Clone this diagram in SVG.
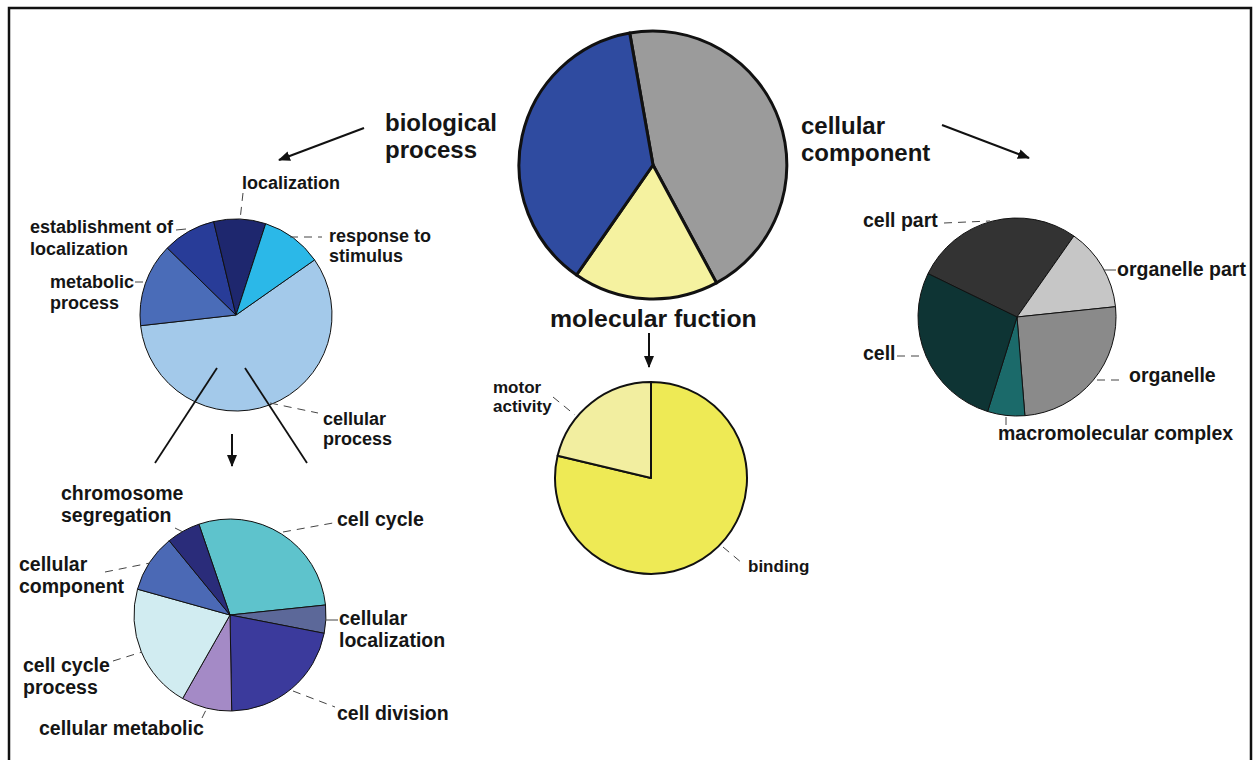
<svg xmlns="http://www.w3.org/2000/svg" width="1258" height="760" viewBox="0 0 1258 760">
<style>
text{font-family:"Liberation Sans",Arial,sans-serif;font-weight:bold;fill:#151515}
.h{font-size:24px}
.hm{font-size:24.8px}
.l{font-size:17px}
.lb{font-size:18px}
.lc{font-size:19.5px}
.s{stroke:#111;stroke-linejoin:round}
.big{stroke-width:3}
.mid{stroke-width:2}
.thin{stroke-width:1}
.lead{stroke:#444;stroke-width:1;fill:none}
.dash{stroke-dasharray:8 6}
.arr{stroke:#111;stroke-width:2;fill:none;marker-end:url(#ah)}
.cone{stroke:#111;stroke-width:1.8;fill:none}
</style>
<defs>
<marker id="ah" markerWidth="12" markerHeight="10" refX="11" refY="5" orient="auto" markerUnits="userSpaceOnUse">
<path d="M0,0 L12,5 L0,10 Z" fill="#111"/>
</marker>
</defs>
<rect width="1258" height="760" fill="#fff"/>
<path d="M9,760 V8 H1251 V760" fill="none" stroke="#111" stroke-width="2.5"/>

<g id="main-pie">
<path class="s big" fill="#9b9b9b" d="M653,165 L629.7,33 A134,134 0 0 1 716.5,282.9 Z"/>
<path class="s big" fill="#f5f2a0" d="M653,165 L716.5,282.9 A134,134 0 0 1 576.5,275 Z"/>
<path class="s big" fill="#2f4ba0" d="M653,165 L576.5,275 A134,134 0 0 1 629.7,33 Z"/>
</g>

<g id="headings">
<text class="h" x="385" y="131">biological</text>
<text class="h" x="385" y="158">process</text>
<text class="h" x="801" y="134">cellular</text>
<text class="h" x="801" y="161">component</text>
<text class="hm" x="550" y="327">molecular fuction</text>
</g>

<g id="biological-pie">
<path class="s thin" fill="#a3c9ea" d="M236,315 L314.6,259.9 A96,96 0 1 1 140.6,325.7 Z"/>
<path class="s thin" fill="#4a6cb8" d="M236,315 L140.6,325.7 A96,96 0 0 1 167.3,248 Z"/>
<path class="s thin" fill="#283c98" d="M236,315 L167.3,248 A96,96 0 0 1 213.7,221.6 Z"/>
<path class="s thin" fill="#1e276e" d="M236,315 L213.7,221.6 A96,96 0 0 1 265.7,223.7 Z"/>
<path class="s thin" fill="#2bb8e8" d="M236,315 L265.7,223.7 A96,96 0 0 1 314.6,259.9 Z"/>
<text class="lb" x="242" y="189">localization</text>
<text class="lb" x="30" y="233">establishment of</text>
<text class="lb" x="30" y="255">localization</text>
<text class="lb" x="50" y="288">metabolic</text>
<text class="lb" x="50" y="309">process</text>
<text class="lb" x="329" y="242">response to</text>
<text class="lb" x="329" y="262">stimulus</text>
<text class="lb" x="323" y="425">cellular</text>
<text class="lb" x="323" y="445">process</text>
</g>

<g id="cellular-process-pie">
<path class="s thin" fill="#5ec3cc" d="M230,615 L198.9,524.2 A96,96 0 0 1 325.5,605 Z"/>
<path class="s thin" fill="#5c6899" d="M230,615 L325.5,605 A96,96 0 0 1 324.2,633.3 Z"/>
<path class="s thin" fill="#3b3a9c" d="M230,615 L324.2,633.3 A96,96 0 0 1 231.7,711 Z"/>
<path class="s thin" fill="#a48ac6" d="M230,615 L231.7,711 A96,96 0 0 1 182.6,698.5 Z"/>
<path class="s thin" fill="#d1ecf1" d="M230,615 L182.6,698.5 A96,96 0 0 1 137.5,589.2 Z"/>
<path class="s thin" fill="#4b69b5" d="M230,615 L137.5,589.2 A96,96 0 0 1 169.2,540.7 Z"/>
<path class="s thin" fill="#2a2c7a" d="M230,615 L169.2,540.7 A96,96 0 0 1 198.9,524.2 Z"/>
<text class="lc" x="61" y="500">chromosome</text>
<text class="lc" x="61" y="522">segregation</text>
<text class="lc" x="337" y="526">cell cycle</text>
<text class="lc" x="19" y="571">cellular</text>
<text class="lc" x="19" y="593">component</text>
<text class="lc" x="339" y="625">cellular</text>
<text class="lc" x="339" y="647">localization</text>
<text class="lc" x="23" y="672">cell cycle</text>
<text class="lc" x="23" y="694">process</text>
<text class="lc" x="39" y="735">cellular metabolic</text>
<text class="lc" x="337" y="720">cell division</text>
</g>

<g id="molecular-pie">
<path class="s mid" fill="#eeea55" d="M651,478 L651,382 A96,96 0 1 1 557.6,455.8 Z"/>
<path class="s mid" fill="#f2eea0" d="M651,478 L557.6,455.8 A96,96 0 0 1 651,382 Z"/>
<text class="l" x="493" y="393">motor</text>
<text class="l" x="493" y="412">activity</text>
<text class="l" x="748" y="572">binding</text>
</g>

<g id="component-pie">
<path class="s thin" fill="#333333" d="M1017,317 L928,273.6 A99,99 0 0 1 1073.9,236 Z"/>
<path class="s thin" fill="#c6c6c6" d="M1017,317 L1073.9,236 A99,99 0 0 1 1115.5,306.7 Z"/>
<path class="s thin" fill="#8a8a8a" d="M1017,317 L1115.5,306.7 A99,99 0 0 1 1024.9,415.7 Z"/>
<path class="s thin" fill="#1b6a6a" d="M1017,317 L1024.9,415.7 A99,99 0 0 1 987.6,411.5 Z"/>
<path class="s thin" fill="#0e3434" d="M1017,317 L987.6,411.5 A99,99 0 0 1 928,273.6 Z"/>
<text class="lc" x="863" y="227">cell part</text>
<text class="lc" x="1117" y="276">organelle part</text>
<text class="lc" x="863" y="360">cell</text>
<text class="lc" x="1129" y="382">organelle</text>
<text class="lc" x="998" y="440">macromolecular complex</text>
</g>

<g id="connectors">
<line class="arr" x1="364" y1="128" x2="279" y2="160"/>
<line class="arr" x1="942" y1="125" x2="1029" y2="158"/>
<line class="arr" x1="649" y1="333" x2="649" y2="367"/>
<line class="arr" x1="232" y1="434" x2="232" y2="466"/>
<line class="cone" x1="217" y1="368" x2="155" y2="463"/>
<line class="cone" x1="245" y1="368" x2="307" y2="463"/>
<line class="lead dash" x1="243" y1="193" x2="240" y2="220"/>
<line class="lead" x1="176" y1="230" x2="186" y2="229"/>
<line class="lead" x1="135" y1="282" x2="143" y2="282"/>
<line class="lead dash" x1="290" y1="237" x2="322" y2="237"/>
<line class="lead dash" x1="270" y1="403" x2="318" y2="413"/>
<line class="lead dash" x1="175" y1="528" x2="183" y2="532"/>
<line class="lead dash" x1="283" y1="532" x2="333" y2="523"/>
<line class="lead dash" x1="105" y1="572" x2="150" y2="563"/>
<line class="lead" x1="325" y1="620" x2="338" y2="620"/>
<line class="lead dash" x1="113" y1="661" x2="142" y2="652"/>
<line class="lead dash" x1="202" y1="718" x2="206" y2="710"/>
<line class="lead dash" x1="293" y1="691" x2="335" y2="707"/>
<line class="lead dash" x1="553" y1="397" x2="575" y2="415"/>
<line class="lead dash" x1="723" y1="547" x2="742" y2="563"/>
<line class="lead dash" x1="944" y1="223" x2="990" y2="221"/>
<line class="lead" x1="1104" y1="270" x2="1116" y2="270"/>
<line class="lead dash" x1="897" y1="356" x2="924" y2="356"/>
<line class="lead dash" x1="1097" y1="380" x2="1124" y2="380"/>
<line class="lead" x1="1006" y1="417" x2="1006" y2="425"/>
</g>
</svg>
